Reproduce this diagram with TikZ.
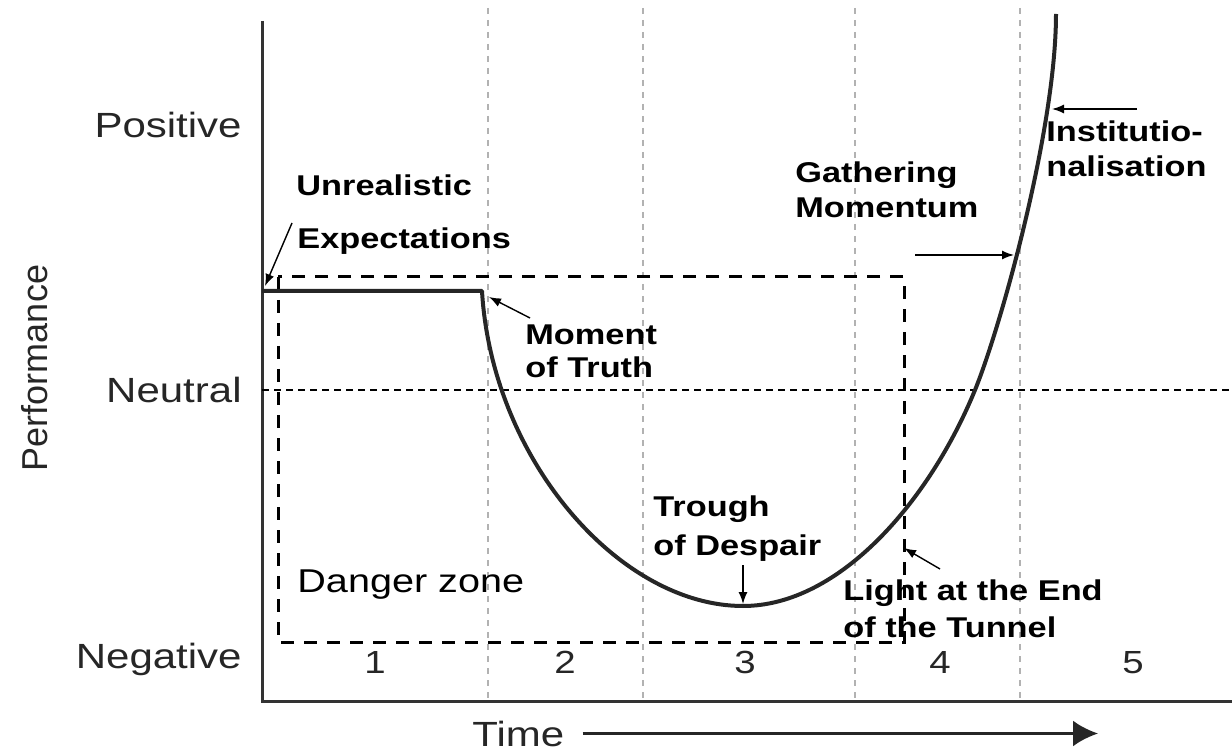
\documentclass[tikz,border=0pt]{standalone}
\usepackage{fontspec}
\setmainfont[FakeStretch=1.2]{Liberation Sans}
\newfontfamily\uprightfont{Liberation Sans}
\usetikzlibrary{arrows.meta}

\begin{document}
\begin{tikzpicture}[x=0.5pt, y=-0.5pt,
    axistext/.style={font=\fontsize{17.5}{20}\selectfont, text=black!85, inner sep=0},
    phase/.style={font=\bfseries\fontsize{14.3}{17}\selectfont, anchor=base west, inner sep=0},
    guide/.style={draw=black!30, line width=1.4pt, dash pattern=on 3pt off 3pt},
    pointer/.style={-{Latex[length=6pt,width=4.5pt]}, line width=0.7pt}]

    \useasboundingbox (0,0) rectangle (1232,754);

    % the phase separators (light grey)
    \foreach \x in {488,643,855,1020}
        \draw[guide] (\x,8) -- (\x,701);

    % the axes
    \draw[line width=1.5pt, black!80] (262,21) -- (262,701) -- (1232,701);

    % the neutral line
    \draw[line width=0.65pt, dash pattern=on 3.5pt off 2.5pt] (262,390) -- (1232,390);

    % the danger zone
    \draw[line width=1.5pt, dash pattern=on 6.5pt off 5pt] (278,277) rectangle (904,642);
    \node[axistext, anchor=base west, font=\fontsize{16.5}{20}\selectfont, text=black] (danger) at (297,592) {Danger zone};

    % the performance curve
    \draw[line width=2pt, black!85, line join=round] (262,291) -- (482,291)
        .. controls (492,460) and (620,606) .. (743,606)
        .. controls (840,606) and (930,500) .. (975,390)
        .. controls (1000,329) and (1056,130) .. (1056,14);

    % the texts on the y axis
    \node[axistext, anchor=base east] (pos) at (242,138) {Positive};
    \node[axistext, anchor=base east] (neu) at (242,402) {Neutral};
    \node[axistext, anchor=base east] (neg) at (242,668) {Negative};
    \node[axistext, font=\uprightfont\fontsize{18}{20}\selectfont, rotate=90] (perf) at (35,368) {Performance};

    % the phase numbers
    \foreach \x/\n in {375/1,565/2,745/3,940/4,1133/5}
        \node[axistext, anchor=base, font=\fontsize{16}{19}\selectfont] (num\n) at (\x,673) {\n};

    % the time axis
    \node[axistext, anchor=base west] (time) at (472,746) {Time};
    \coordinate (timeend) at (1098,734);
    \draw[-{Latex[length=12.5pt,width=13pt]}, line width=1.5pt, black!85] ([xshift=9pt]time.east) -- (time.east -| timeend);

    % the phase labels
    \node[phase] (unreal) at (296,196) {Unrealistic};
    \node[phase] (expect) at (297,249) {Expectations};
    \node[phase] (moment) at (525,344) {Moment};
    \node[phase] (truth) at (525,378) {of Truth};
    \node[phase] (trough) at (653,516) {Trough};
    \node[phase] (despair) at (653,555) {of Despair};
    \node[phase] (light) at (843,600) {Light at the End};
    \node[phase] (tunnel) at (843,637) {of the Tunnel};
    \node[phase] (gather) at (795,183) {Gathering};
    \node[phase] (momentum) at (795,218) {Momentum};
    \node[phase] (inst) at (1046,142) {Institutio-};
    \node[phase] (nalis) at (1046,177) {nalisation};

    % where the arrows start, and where they meet the curve
    \coordinate (expect-from) at (292,223);  \coordinate (expect-to) at (265,286);
    \coordinate (truth-from) at (530,318);   \coordinate (truth-to) at (489,297);
    \coordinate (trough-from) at (743,565);  \coordinate (trough-to) at (743,604);
    \coordinate (light-from) at (940,569);   \coordinate (light-to) at (904,548);
    \coordinate (gather-from) at (915,255);  \coordinate (gather-to) at (1014,255);
    \coordinate (inst-from) at (1137,109);   \coordinate (inst-to) at (1052,109);

    % draw the arrows
    \draw[pointer] (expect-from) -- (expect-to);
    \draw[pointer] (truth-from) -- (truth-to);
    \draw[pointer] (trough-from) -- (trough-to);
    \draw[pointer] (light-from) -- (light-to);
    \draw[pointer] (gather-from) -- (gather-to);
    \draw[pointer] (inst-from) -- (inst-to);
\end{tikzpicture}
\end{document}
